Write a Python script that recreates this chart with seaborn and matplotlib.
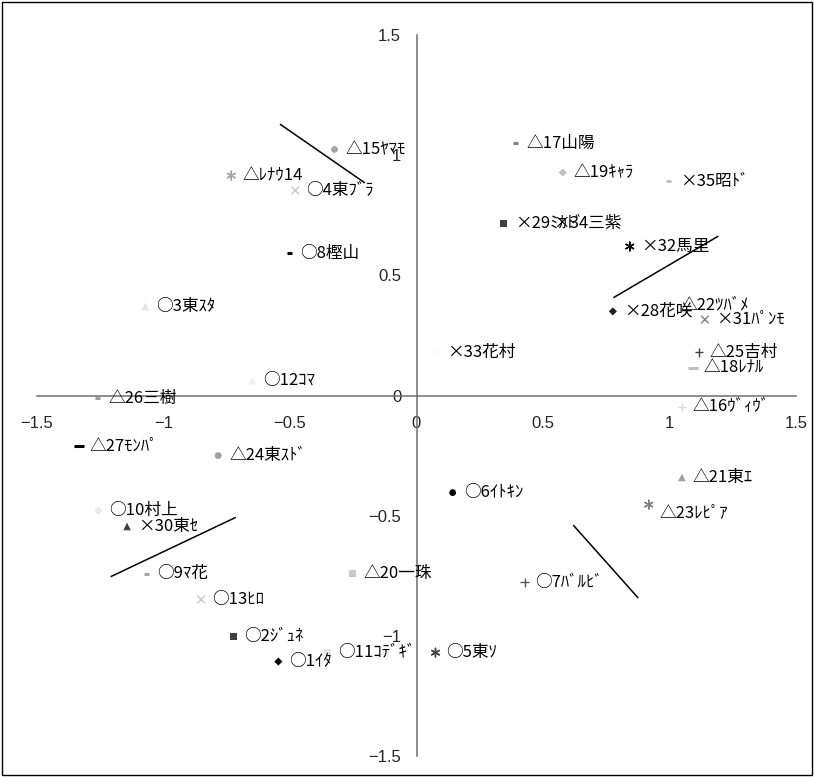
import matplotlib
matplotlib.use("Agg")
import matplotlib.pyplot as plt
import seaborn as sns
import pandas as pd
from matplotlib.patches import Rectangle

# ---- data -------------------------------------------------------------
names = ["○1ｲﾀ", "○2ｼﾞｭﾈ", "○3東ｽﾀ", "○4東ﾌﾞﾗ", "○5東ｿ", "○6ｲﾄｷﾝ",
         "○7ﾊﾞﾙﾋﾞ", "○8樫山", "○9ﾏ花", "○10村上", "○11ｺﾃﾞｷﾞ", "○12ｺﾏ",
         "○13ﾋﾛ", "△ﾚﾅｳ14", "△15ﾔﾏﾓ", "△16ｳﾞｨｳﾞ", "△17山陽", "△18ﾚﾅﾙ",
         "△19ｷｬﾗ", "△20一珠", "△21東ｴ", "△22ﾂﾊﾞﾒ", "△23ﾚﾋﾟｱ", "△24東ｽﾄﾞ",
         "△25吉村", "△26三樹", "△27ﾓﾝﾊﾟ", "×28花咲", "×29ﾐｶﾄﾞ", "×30東ｾ",
         "×31ﾊﾟﾝﾓ", "×32馬里", "×33花村", "×34三紫", "×35昭ﾄﾞ"]

dim1 = [-0.546, -0.724, -1.072, -0.479, 0.075, 0.143, 0.427, -0.503,
        -1.068, -1.258, -0.352, -0.649, -0.851, -0.732, -0.324, 1.049,
        0.392, 1.092, 0.578, -0.253, 1.049, 1.001, 0.918, -0.784,
        1.116, -1.262, -1.334, 0.776, 0.344, -1.144, 1.140, 0.843,
        0.079, 0.495, 0.997]

dim2 = [-1.107, -1.003, 0.370, 0.853, -1.070, -0.404, -0.778, 0.591,
        -0.741, -0.479, -1.070, 0.062, -0.849, 0.915, 1.024, -0.046,
        1.049, 0.116, 0.928, -0.741, -0.341, 0.375, -0.454, -0.250,
        0.179, -0.012, -0.212, 0.350, 0.716, -0.545, 0.316, 0.620,
        0.179, 0.716, 0.891]

# reference segments
seg_x0 = [-0.538, 0.780, -1.207, 0.621]
seg_y0 = [1.128, 0.408, -0.753, -0.541]
seg_x1 = [-0.206, 1.191, -0.716, 0.875]
seg_y1 = [0.886, 0.662, -0.508, -0.841]

ticks = [-1.5, -1.0, -0.5, 0.0, 0.5, 1.0, 1.5]
tick_labels = ["\u22121.5", "\u22121", "\u22120.5", "0", "0.5", "1", "1.5"]

# ---- marker styling ------------------------------------------------------
kinds = ["D", "s", "^", "x", "ast", "o", "+", "-", "-", "D", "s", "^",
         "x", "ast", "o", "+", "-", "--", "D", "s", "^", "^", "ast", "o",
         "+", "-", "--", "D", "s", "^", "x", "ast", "o", "s", "-"]
shades = ["#000000", "#404040", "#e4e4e4", "#c8c8c8", "#404040", "#000000",
          "#595959", "#000000", "#a6a6a6", "#e8e8e8", "#e8e8e8", "#eeeeee",
          "#c8c8c8", "#a6a6a6", "#a6a6a6", "#d9d9d9", "#808080", "#c0c0c0",
          "#bfbfbf", "#c8c8c8", "#a0a0a0", "#f8f8f8", "#808080", "#a0a0a0",
          "#404040", "#a0a0a0", "#000000", "#202020", "#404040", "#404040",
          "#808080", "#000000", "#fcfcfc", "#f8f8f8", "#c0c0c0"]

marker_spec = {
    "D": dict(marker="D", s=17, linewidth=0),
    "s": dict(marker="s", s=26, linewidth=0),
    "^": dict(marker="^", s=30, linewidth=0),
    "o": dict(marker="o", s=24, linewidth=0),
    "x": dict(marker="x", s=30, linewidth=1.0),
    "+": dict(marker="+", s=34, linewidth=1.0),
    "ast": dict(marker=(6, 2, 0), s=40, linewidth=1.0),
    "-": dict(marker="_", s=14, linewidth=2.2),
    "--": dict(marker="_", s=50, linewidth=2.2),
}

df = pd.DataFrame({"name": names, "dim1": dim1, "dim2": dim2,
                   "kind": kinds, "shade": shades})

# ---- figure ----------------------------------------------------------------
sns.set_style("white")
plt.rcParams["font.family"] = ["Noto Sans CJK JP", "DejaVu Sans"]

fig = plt.figure(figsize=(8.14, 7.77), dpi=100)
ax = fig.add_axes([37 / 814, 21 / 777, 759 / 814, 721 / 777])
ax.set_xlim(-1.5, 1.5)
ax.set_ylim(-1.5, 1.5)

axis_col = "#6e6e6e"
for side in ("top", "right"):
    ax.spines[side].set_visible(False)
for side in ("left", "bottom"):
    ax.spines[side].set_position(("data", 0))
    ax.spines[side].set_color(axis_col)
    ax.spines[side].set_linewidth(1.1)

ax.set_xticks(ticks)
ax.set_yticks(ticks)
ax.set_xticklabels(tick_labels, family="Liberation Sans", fontsize=12)
ax.set_yticklabels(tick_labels, family="Liberation Sans", fontsize=12)
ax.tick_params(axis="x", direction="in", length=6, width=1, color=axis_col, pad=15)
ax.tick_params(axis="y", direction="in", length=6, width=1, color=axis_col, pad=11)
ax.grid(False)

# points, one call per marker shape
for kind, spec in marker_spec.items():
    sub = df[df["kind"] == kind]
    if sub.empty:
        continue
    sns.scatterplot(data=sub, x="dim1", y="dim2", hue="name",
                    palette=dict(zip(sub["name"], sub["shade"])),
                    legend=False, ax=ax, edgecolor=None, zorder=3, **spec)

# hand-drawn guide segments
for x0, y0, x1, y1 in zip(seg_x0, seg_y0, seg_x1, seg_y1):
    sns.lineplot(x=[x0, x1], y=[y0, y1], color="black", linewidth=1.1,
                 ax=ax, zorder=4, sort=False)
ax.set_xlabel("")
ax.set_ylabel("")

# point labels
nudges = {"△23ﾚﾋﾟｱ": (11, -8)}
for name, x, y in zip(names, dim1, dim2):
    off = nudges.get(name, (11, 0))
    ax.annotate(name, (x, y), xytext=off, textcoords="offset pixels",
                ha="left", va="center", fontsize=12, color="black", zorder=5)

# outer frame of the chart area
fig.patches.append(Rectangle((0.003, 0.003), 0.994, 0.994, transform=fig.transFigure,
                             fill=False, edgecolor="black", linewidth=1.0))

fig.savefig("out.png", dpi=100)
